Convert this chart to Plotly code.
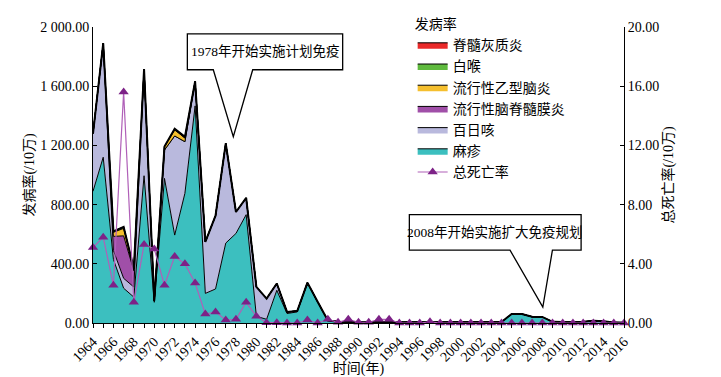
import plotly.graph_objects as go

years = list(range(1964, 2017))

measles = [890, 1120, 430, 235, 175, 995, 140, 977, 594, 876,
           1467, 200, 230, 540, 605, 732, 45, 25, 221, 64,
           75, 268, 140, 15, 8, 6, 5, 5, 4, 4,
           4, 4, 4, 5, 4, 4, 4, 4, 5, 5,
           6, 60, 60, 41, 40, 7, 3, 4, 7, 14,
           10, 3, 2]
pertussis = [390, 770, 60, 67, 68, 720, 10, 192, 670, 349,
             165, 348, 495, 674, 145, 113, 199, 140, 46, 11,
             6, 5, 3, 2, 1, 1, 1, 1, 1, 1,
             1, 1, 1, 1, 1, 1, 1, 1, 1, 1,
             1, 1, 1, 1, 1, 1, 1, 1, 1, 1,
             1, 1, 1]
meningitis = [0, 0, 95, 287, 110] + [0] * 48
encephalitis = [0, 0, 28, 50, 15, 0, 0, 23, 40, 25] + [0] * 43
diphtheria = [0, 0, 6, 10, 0, 0, 0, 0, 5, 0] + [0] * 43
polio = [0, 0, 0, 0, 0, 0, 0, 0, 3, 8] + [0] * 43
deaths = [5.1, 5.8, 2.55, 15.6, 1.4, 5.3, 5.0, 2.55, 4.5, 4.0,
          2.7, 0.6, 0.75, 0.2, 0.25, 1.4, 0.45, 0.02, 0.02, 0.0,
          0.0, 0.2, 0.0, 0.25, 0.05, 0.25, 0.05, 0.05, 0.25, 0.25,
          0, 0, 0, 0.08, 0, 0, 0, 0, 0, 0,
          0, 0, 0, 0, 0, 0, 0, 0, 0, 0,
          0, 0, 0]

left_ticks = [0, 400, 800, 1200, 1600, 2000]
left_labels = ["0.00", "400.00", "800.00", "1 200.00", "1 600.00", "2 000.00"]
right_ticks = [0, 4, 8, 12, 16, 20]
right_labels = ["0.00", "4.00", "8.00", "12.00", "16.00", "20.00"]
x_ticks = list(range(1964, 2017, 2))

FONT = "Liberation Serif, Noto Sans CJK SC"

fig = go.Figure()

areas = [
    ("麻疹", measles, "#3cbfbf", 6),
    ("百日咳", pertussis, "#b9b9dd", 5),
    ("流行性脑脊髓膜炎", meningitis, "#a04fa8", 4),
    ("流行性乙型脑炎", encephalitis, "#f5bf2e", 3),
    ("白喉", diphtheria, "#5fba3e", 2),
    ("脊髓灰质炎", polio, "#ea2a2a", 1),
]
for name, vals, col, rank in areas:
    fig.add_trace(go.Scatter(
        x=years, y=vals, name=name, stackgroup="one", mode="lines",
        line=dict(color="black", width=1.0),
        fillcolor=col, legendrank=rank,
    ))

# thick outline along the top of the stacked areas
total = [sum(v) for v in zip(measles, pertussis, meningitis, encephalitis, diphtheria, polio)]
fig.add_trace(go.Scatter(
    x=years, y=total, mode="lines", line=dict(color="black", width=2.0),
    showlegend=False, hoverinfo="skip",
))

fig.add_trace(go.Scatter(
    x=years, y=deaths, name="总死亡率", yaxis="y2", mode="lines+markers",
    line=dict(color="#b060b8", width=1.2),
    marker=dict(symbol="triangle-up", size=9, color="#7d2287"),
    cliponaxis=False, legendrank=7,
))


def callout(x0, x1, y0, y1, bl, br, tx, ty):
    return (f"M {x0},{y1} L {x1},{y1} L {x1},{y0} L {br},{y0} "
            f"L {tx},{ty} L {bl},{y0} L {x0},{y0} Z")


shapes = [
    dict(type="path", xref="x", yref="y", layer="above",
         path=callout(1973.24, 1988.45, 1711, 1954, 1975.78, 1979.64, 1977.74, 1259),
         line=dict(color="black", width=1.3), fillcolor="white"),
    dict(type="path", xref="x", yref="y", layer="above",
         path=callout(1994.98, 2011.8, 492, 732, 2004.84, 2008.99, 2008.05, 108),
         line=dict(color="black", width=1.3), fillcolor="white"),
]

annotations = [
    dict(x=(1973.24 + 1988.45) / 2, y=(1711 + 1954) / 2, xref="x", yref="y",
         text="1978年开始实施计划免疫", showarrow=False,
         font=dict(family=FONT, size=13.5, color="black")),
    dict(x=(1994.98 + 2011.8) / 2, y=(492 + 732) / 2, xref="x", yref="y",
         text="2008年开始实施扩大免疫规划", showarrow=False,
         font=dict(family=FONT, size=13.5, color="black")),
]

# the page body adds an 8px offset; the figure is sized to fill the rest of the window
fig.update_layout(
    width=713, height=369,
    margin=dict(l=85, r=97, t=19, b=54, autoexpand=False),
    paper_bgcolor="white", plot_bgcolor="white",
    font=dict(family=FONT, size=13, color="black"),
    showlegend=True,
    legend=dict(
        x=0.602, y=1.054, xanchor="left", yanchor="top",
        traceorder="normal",
        title=dict(text="发病率", font=dict(family=FONT, size=14)),
        font=dict(family=FONT, size=14),
        bgcolor="rgba(0,0,0,0)", tracegroupgap=0, itemwidth=30,
    ),
    xaxis=dict(
        range=[1964, 2016], tickvals=x_ticks, tickangle=-45,
        showline=True, linecolor="black", linewidth=1,
        ticks="outside", ticklen=4, tickcolor="black",
        minor=dict(dtick=1, tick0=1964, ticks="outside", ticklen=4, tickcolor="black"),
        showgrid=False, zeroline=False,
        title=dict(text="时间(年)", font=dict(family=FONT, size=14), standoff=4),
        tickfont=dict(family=FONT, size=14),
    ),
    yaxis=dict(
        range=[0, 2000], tickvals=left_ticks, ticktext=left_labels,
        showline=True, linecolor="black", linewidth=1,
        ticks="inside", ticklen=4, tickcolor="black",
        showgrid=False, zeroline=False,
        title=dict(text="发病率(/10万)", font=dict(family=FONT, size=14), standoff=2),
        tickfont=dict(family=FONT, size=14),
    ),
    yaxis2=dict(
        range=[0, 20], tickvals=right_ticks, ticktext=right_labels,
        overlaying="y", side="right", anchor="x",
        showline=True, linecolor="black", linewidth=1,
        ticks="inside", ticklen=4, tickcolor="black",
        showgrid=False, zeroline=False,
        title=dict(text="总死亡率(/10万)", font=dict(family=FONT, size=14), standoff=4),
        tickfont=dict(family=FONT, size=14),
    ),
    shapes=shapes,
    annotations=annotations,
)

fig.write_html("out.html")
